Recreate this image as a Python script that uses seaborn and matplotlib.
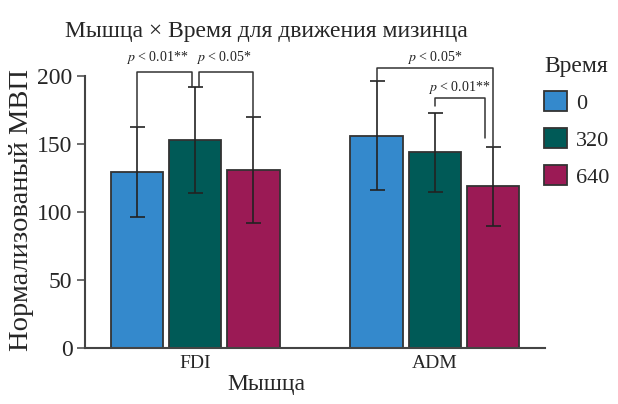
import matplotlib

matplotlib.use("Agg")
import matplotlib.pyplot as plt
import numpy as np
import pandas as pd
import seaborn as sns

# ----------------------------------------------------------------------
# Data
# ----------------------------------------------------------------------
muscles = ["FDI", "ADM"]
times = ["0", "320", "640"]
mep_fdi = [129, 153, 131]
mep_adm = [156, 144, 119]
err_fdi = [33, 39, 39]
err_adm = [40, 29, 29]

colors = ["#3489cc", "#005a57", "#9b1a55"]

df = pd.DataFrame(
    {
        "Мышца": np.repeat(muscles, len(times)),
        "Время": times * len(muscles),
        "МВП": mep_fdi + mep_adm,
        "err": err_fdi + err_adm,
    }
)

sns.set_style("ticks")
plt.rcParams["font.family"] = ["Liberation Serif", "DejaVu Serif"]
plt.rcParams["mathtext.fontset"] = "stix"

fig = plt.figure(figsize=(6.18, 4.04), dpi=100)
ax = fig.add_axes([85 / 618, 1 - 348.3 / 404, 460 / 618, 272.6 / 404])

sns.barplot(
    data=df,
    x="Мышца",
    y="МВП",
    hue="Время",
    hue_order=times,
    order=muscles,
    palette=colors,
    saturation=1,
    width=0.728,
    gap=0.1,
    errorbar=None,
    edgecolor="#333333",
    linewidth=1.3,
    ax=ax,
)

# error bars on top of each bar, taken from the bar geometry
centers = {}
for t, cont in zip(times, ax.containers):
    for m, bar in zip(muscles, cont):
        cx = bar.get_x() + bar.get_width() / 2
        row = df[(df["Мышца"] == m) & (df["Время"] == t)].iloc[0]
        centers[(m, t)] = (cx, row["МВП"] + row["err"])
        ax.errorbar(cx, row["МВП"], yerr=row["err"], color="#222222",
                    lw=1.2, capsize=5.4, capthick=1.2, zorder=5)

# significance brackets: (muscle, left time, right time, bar level, dx left, dx right, left end, right end)
brackets = [
    ("FDI", "0", "320", 203, 0.0, -0.015, None, None),
    ("FDI", "320", "640", 203, 0.015, 0.0, None, None),
    ("ADM", "0", "640", 205.6, 0.0, 0.0, None, None),
    ("ADM", "320", "640", 184, 0.0, -0.032, 178, 154),
]
for m, a, b, yb, dxa, dxb, ya, yb_end in brackets:
    xa, ta = centers[(m, a)]
    xb, tb = centers[(m, b)]
    ya = ta if ya is None else ya
    yb_end = tb if yb_end is None else yb_end
    ax.plot([xa + dxa, xa + dxa, xb + dxb, xb + dxb], [ya, yb, yb, yb_end],
            color="#333333", lw=1.1, clip_on=False, zorder=6)

labels = [
    (-0.16, 213, "$p$ < 0.01**"),
    (0.118, 213, "$p$ < 0.05*"),
    (1.0, 213.4, "$p$ < 0.05*"),
    (1.1, 191, "$p$ < 0.01**"),
]
for x, y, s in labels:
    ax.text(x, y, s, ha="center", va="center", fontsize=10, color="#222222")

ax.set_xlim(-0.46, 1.46)
ax.set_ylim(0, 200)
ax.set_yticks([0, 50, 100, 150, 200])
ax.tick_params(axis="y", labelsize=17, length=6, width=1.2, color="#555555", pad=3)
ax.tick_params(axis="x", labelsize=14, length=0, pad=5)
for s in ["top", "right"]:
    ax.spines[s].set_visible(False)
for s in ["left", "bottom"]:
    ax.spines[s].set_linewidth(1.5)
    ax.spines[s].set_color("#444444")

ax.set_xlabel("Мышца", fontsize=17)
ax.xaxis.set_label_coords((266 - 85) / 460, -0.095)
ax.set_ylabel("Нормализованый МВП", fontsize=20.5)
ax.yaxis.set_label_coords(-0.111, 0.507)

fig.text(266 / 618, 1 - 32 / 404, "Мышца × Время для движения мизинца",
         ha="center", va="center", fontsize=17)

ax.legend(
    title="Время",
    loc="upper left",
    bbox_to_anchor=(535 / 618, 1 - 47 / 404),
    bbox_transform=fig.transFigure,
    frameon=False,
    fontsize=16,
    title_fontsize=17,
    handlelength=1.05,
    handleheight=1.0,
    handletextpad=0.4,
    labelspacing=0.65,
    alignment="left",
    borderaxespad=0,
)

fig.savefig("out.png", dpi=100)
